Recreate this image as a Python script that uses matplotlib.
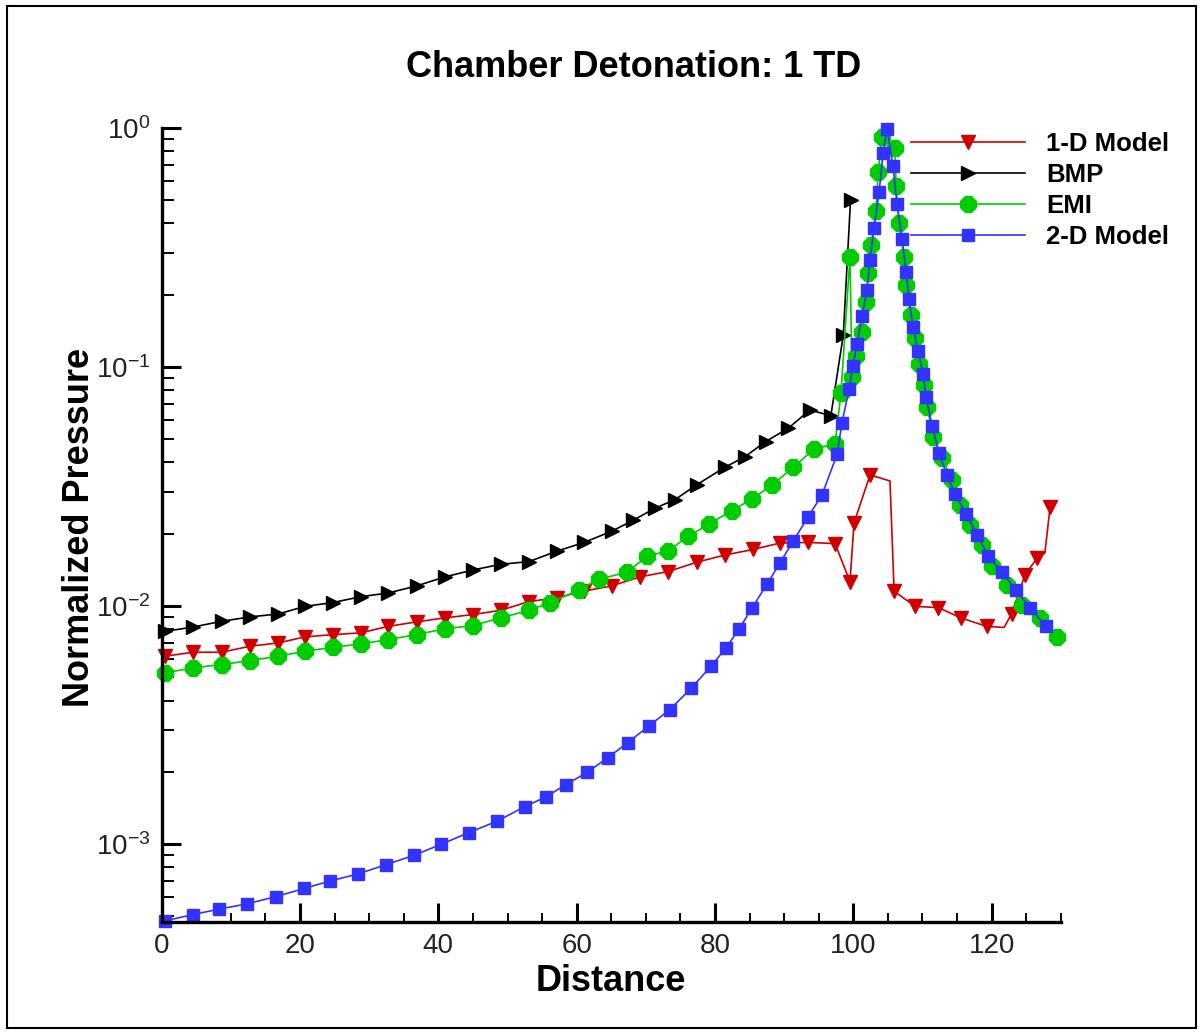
import matplotlib
matplotlib.use("Agg")
import matplotlib.pyplot as plt
from matplotlib.patches import Rectangle
from matplotlib.ticker import MultipleLocator, LogLocator, NullFormatter

plt.rcParams['font.family'] = ['Liberation Sans', 'DejaVu Sans']
plt.rcParams['mathtext.default'] = 'regular'

# 1-D Model (red, down triangles); some points carry no symbol
x_1d = [0.48, 4.57, 8.68, 12.77, 16.86, 20.72, 24.73, 28.77, 32.76, 36.87,
        40.96, 44.97, 49.02, 53.11, 57.11, 61.06, 65.07, 69.16, 73.25, 77.36,
        81.44, 85.54, 89.40, 93.49, 97.36, 99.52, 100.10, 102.42, 105.30, 105.90,
        108.93, 112.29, 115.57, 119.29, 121.80, 122.90, 124.83, 126.57, 127.70, 128.45]
p_1d = [6.14e-3, 6.38e-3, 6.38e-3, 6.76e-3, 6.98e-3, 7.40e-3, 7.56e-3, 7.69e-3, 8.19e-3, 8.55e-3,
        8.89e-3, 9.17e-3, 9.56e-3, 1.04e-2, 1.08e-2, 1.15e-2, 1.21e-2, 1.32e-2, 1.39e-2, 1.52e-2,
        1.63e-2, 1.72e-2, 1.83e-2, 1.84e-2, 1.82e-2, 1.26e-2, 2.22e-2, 3.53e-2, 3.33e-2, 1.15e-2,
        9.93e-3, 9.81e-3, 8.88e-3, 8.19e-3, 8.10e-3, 9.26e-3, 1.35e-2, 1.58e-2, 1.66e-2, 2.59e-2]
plain_1d = [28, 34, 38]

# BMP (black, right triangles)
x_bmp = [0.48, 4.57, 8.68, 12.77, 16.86, 20.72, 24.73, 28.77, 32.76, 36.87,
         40.96, 44.97, 49.02, 53.11, 57.11, 61.06, 65.07, 68.19, 71.33, 74.21,
         77.36, 81.44, 84.34, 87.33, 90.60, 93.74, 96.75, 98.55, 99.60]
p_bmp = [7.80e-3, 8.14e-3, 8.60e-3, 8.97e-3, 9.23e-3, 9.93e-3, 1.03e-2, 1.09e-2, 1.13e-2, 1.21e-2,
         1.32e-2, 1.41e-2, 1.49e-2, 1.53e-2, 1.69e-2, 1.84e-2, 2.05e-2, 2.28e-2, 2.56e-2, 2.78e-2,
         3.21e-2, 3.80e-2, 4.21e-2, 4.87e-2, 5.54e-2, 6.61e-2, 6.24e-2, 0.136, 0.500]

# EMI (green)
x_emi = [0.48, 4.57, 8.68, 12.77, 16.86, 20.72, 24.73, 28.77, 32.76, 36.87,
         40.96, 44.97, 49.02, 53.11, 56.14, 60.31, 63.20, 67.24, 70.21, 73.25,
         76.14, 79.18, 82.42, 85.31, 88.29, 91.33, 94.32, 97.36, 98.22, 99.52,
         99.81, 100.39, 101.26, 101.84, 102.13, 102.57, 103.29, 103.58, 104.16, 106.03,
         106.18, 106.61, 107.34, 107.63, 108.35, 108.93, 109.51, 110.23, 110.67, 111.53,
         112.83, 114.27, 115.43, 116.87, 118.61, 120.06, 122.22, 124.40, 127.00, 129.46]
p_emi = [5.23e-3, 5.49e-3, 5.66e-3, 5.89e-3, 6.14e-3, 6.44e-3, 6.69e-3, 6.91e-3, 7.21e-3, 7.57e-3,
         8.00e-3, 8.25e-3, 8.89e-3, 9.56e-3, 1.03e-2, 1.16e-2, 1.29e-2, 1.38e-2, 1.61e-2, 1.70e-2,
         1.95e-2, 2.20e-2, 2.50e-2, 2.79e-2, 3.21e-2, 3.80e-2, 4.53e-2, 4.77e-2, 7.78e-2, 0.290,
         9.10e-2, 0.111, 0.140, 0.187, 0.247, 0.324, 0.450, 0.655, 0.917, 0.824,
         0.572, 0.401, 0.289, 0.220, 0.165, 0.132, 0.103, 8.41e-2, 6.81e-2, 5.10e-2,
         4.16e-2, 3.37e-2, 2.65e-2, 2.18e-2, 1.80e-2, 1.46e-2, 1.22e-2, 1.01e-2, 8.91e-3, 7.42e-3]

# 2-D Model (blue squares)
x_2d = [0.48, 4.53, 8.29, 12.33, 16.53, 20.58, 24.34, 28.38, 32.43, 36.48,
        40.39, 44.43, 48.48, 52.53, 55.55, 58.46, 61.50, 64.53, 67.42, 70.43,
        73.47, 76.53, 79.42, 81.59, 83.48, 85.35, 87.52, 89.40, 91.28, 93.45,
        95.47, 97.65, 98.37, 99.38, 99.95, 100.53, 101.26, 101.98, 102.42, 103.00,
        103.73, 104.31, 104.89, 105.74, 106.32, 107.05, 107.63, 108.06, 108.64, 109.36,
        110.08, 110.52, 111.39, 112.39, 113.55, 114.70, 116.29, 117.88, 119.48, 121.50,
        123.53, 125.56, 127.87]
p_2d = [4.78e-4, 5.08e-4, 5.35e-4, 5.63e-4, 6.04e-4, 6.53e-4, 7.02e-4, 7.51e-4, 8.22e-4, 8.99e-4,
        1.00e-3, 1.12e-3, 1.25e-3, 1.44e-3, 1.58e-3, 1.78e-3, 2.00e-3, 2.31e-3, 2.67e-3, 3.13e-3,
        3.67e-3, 4.50e-3, 5.57e-3, 6.65e-3, 7.98e-3, 9.77e-3, 1.23e-2, 1.51e-2, 1.86e-2, 2.35e-2,
        2.91e-2, 4.30e-2, 5.85e-2, 8.06e-2, 0.1007, 0.125, 0.163, 0.210, 0.281, 0.384,
        0.541, 0.789, 0.997, 0.693, 0.481, 0.345, 0.250, 0.193, 0.147, 0.117,
        9.35e-2, 7.49e-2, 5.66e-2, 4.38e-2, 3.51e-2, 2.94e-2, 2.43e-2, 1.98e-2, 1.62e-2, 1.38e-2,
        1.16e-2, 9.78e-3, 8.18e-3]

W, H = 1201, 1034
fig = plt.figure(figsize=(W / 100, H / 100), dpi=100)
ax = fig.add_axes([161.7 / W, (H - 921.7) / H, (1060.8 - 161.7) / W, (921.7 - 128.3) / H])

# outer frame
fig.patches.append(Rectangle((7 / W, 6 / H), (1196 - 7) / W, (1028 - 6) / H,
                             transform=fig.transFigure, fill=False, edgecolor='black', lw=1.5))

marked_1d = [i for i in range(len(x_1d)) if i not in plain_1d]
ax.plot(x_1d, p_1d, color='#d00000', lw=1.2, marker='v', ms=10, markevery=marked_1d,
        label='1-D Model', clip_on=False)
ax.plot(x_bmp, p_bmp, color='black', lw=1.2, marker='>', ms=10, label='BMP', clip_on=False)
ax.plot(x_emi, p_emi, color='#00cc00', lw=1.2, marker='8', ms=13, label='EMI', clip_on=False)
ax.plot(x_2d, p_2d, color='#3333ff', lw=1.2, marker='s', ms=8, label='2-D Model', clip_on=False)

ax.set_yscale('log')
ax.set_xlim(0, 130)
ax.set_ylim(4.74e-4, 1.0)

ax.spines['top'].set_visible(False)
ax.spines['right'].set_visible(False)
ax.spines['left'].set_linewidth(2.4)
ax.spines['bottom'].set_linewidth(2.4)

ax.xaxis.set_major_locator(MultipleLocator(20))
ax.xaxis.set_minor_locator(MultipleLocator(5))
ax.yaxis.set_major_locator(LogLocator(base=10))
ax.yaxis.set_minor_locator(LogLocator(base=10, subs=range(2, 10)))
ax.yaxis.set_minor_formatter(NullFormatter())

ax.tick_params(axis='both', which='major', direction='in', length=14, width=2.2,
               labelsize=20, labelcolor='#222222')
ax.tick_params(axis='x', which='major', pad=8)
ax.tick_params(axis='y', which='major', pad=8)
ax.tick_params(axis='x', which='minor', direction='in', length=6.5, width=1.4)
ax.tick_params(axis='y', which='minor', direction='in', length=8.6, width=1.4)

fig.text(633.5 / W, 1 - 77 / H, 'Chamber Detonation: 1 TD', fontsize=26, fontweight='bold',
         ha='center', va='baseline')
fig.text(611 / W, 1 - 991 / H, 'Distance', fontsize=26, fontweight='bold',
         ha='center', va='baseline')
fig.text(80 / W, 1 - 527 / H, 'Normalized Pressure', fontsize=26, fontweight='bold',
         ha='center', va='center', rotation=90)

ax.legend(loc='upper left', bbox_to_anchor=(911 / W, 1 - 132 / H), bbox_transform=fig.transFigure,
          frameon=False, borderpad=0, borderaxespad=0, handlelength=4.45, handletextpad=0.82,
          labelspacing=0.27, prop={'size': 18.5, 'weight': 'bold'})

fig.savefig('out.png', dpi=100)
